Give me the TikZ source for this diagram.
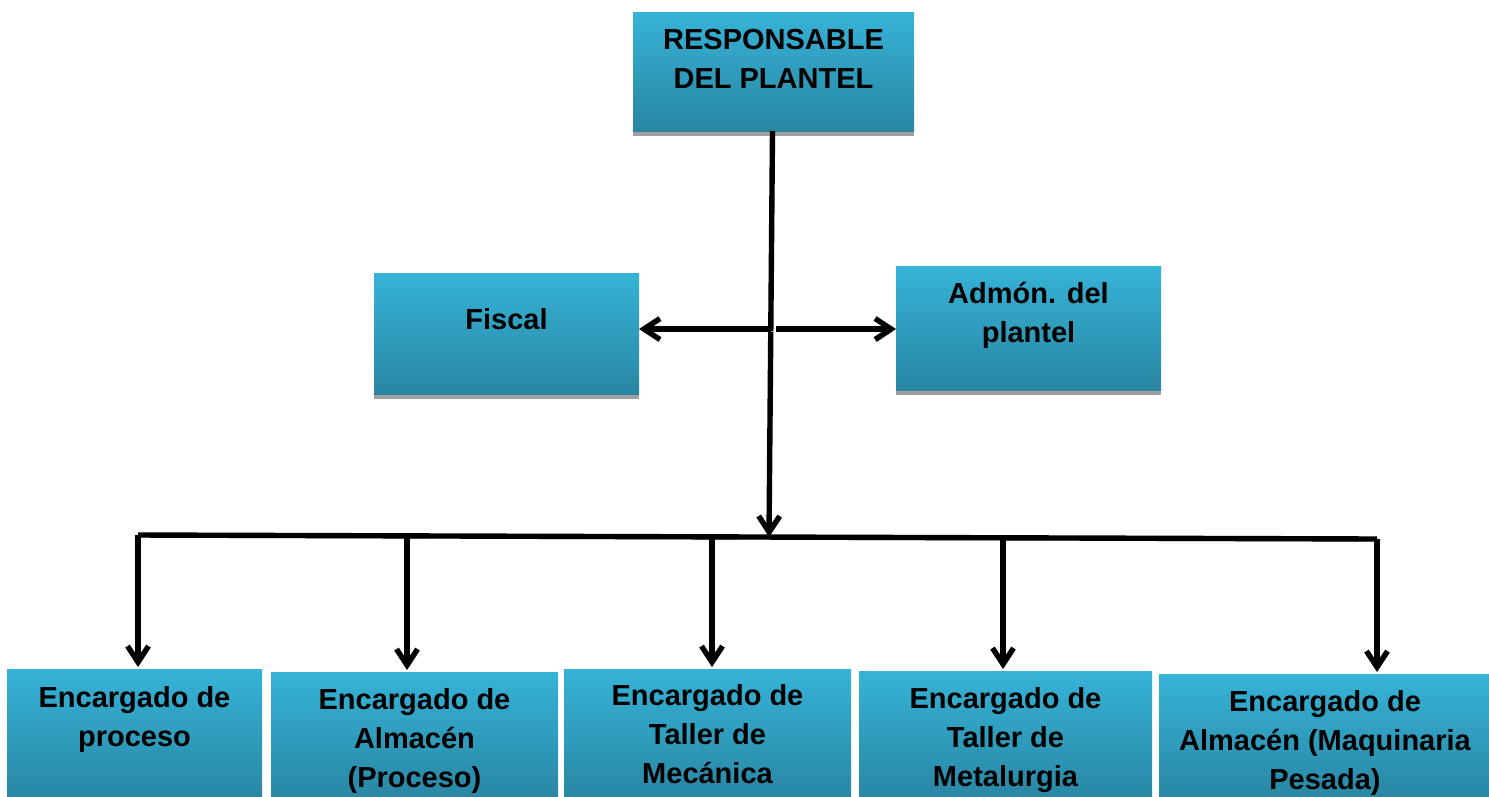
\documentclass[tikz,border=0pt]{standalone}
\usepackage{fontspec}
\setmainfont{Liberation Sans}
\usetikzlibrary{arrows.meta}
\definecolor{cTop}{RGB}{54,179,215}
\definecolor{cBot}{RGB}{41,134,163}
\definecolor{cShadow}{RGB}{160,160,160}
\newcommand\bxt[4]{\parbox[c][#2][t]{#1}{\fontsize{29pt}{39pt}\selectfont\bfseries\centering\rule{0pt}{#3}#4}}
\tikzset{
  box/.style={anchor=north west, inner sep=0pt, outer sep=0pt, top color=cTop, bottom color=cBot, draw=none},
  shadowbar/.style={fill=cShadow},
  conn/.style={line width=5.4pt, black, preaction={draw=cShadow, transform canvas={xshift=1.5pt,yshift=-2.5pt}}},
  arr/.style={conn, -{Straight Barb[length=16pt,width=21pt]}}
}
\begin{document}
\begin{tikzpicture}[x=1pt,y=-1pt]
\useasboundingbox (0,0) rectangle (1489,796);
% shadows of upper boxes
\fill[shadowbar] (633,125) rectangle (914,136);
\fill[shadowbar] (374,385) rectangle (639,399);
\fill[shadowbar] (896,380) rectangle (1161,395);
% upper boxes
\node[box] (top) at (633,12) {\bxt{281pt}{119pt}{37pt}{RESPONSABLE\\DEL PLANTEL}};
\node[box] (fiscal) at (374,273) {\bxt{265pt}{121pt}{56pt}{Fiscal}};
\node[box] (admon) at (896,266) {\bxt{265pt}{124pt}{37pt}{Admón. del\\plantel}};
% lower boxes
\node[box] (e1) at (7,669) {\bxt{255pt}{131pt}{38pt}{Encargado de\\proceso}};
\node[box] (e2) at (271,672) {\bxt{287pt}{128pt}{37pt}{Encargado de\\Almacén\\(Proceso)}};
\node[box] (e3) at (564,669) {\bxt{287pt}{131pt}{36pt}{Encargado de\\Taller de\\Mecánica}};
\node[box] (e4) at (859,671) {\bxt{293pt}{129pt}{37pt}{Encargado de\\Taller de\\Metalurgia}};
\node[box] (e5) at (1159,674) {\bxt{332pt}{126pt}{37pt}{Encargado de\\Almacén (Maquinaria\\Pesada)}};
% connectors
\coordinate (hub) at (769,537);
\coordinate (mid) at (771,329);
\coordinate (midr) at (776,329);
\coordinate (b1) at (138,535);
\coordinate (b2) at (407,536);
\coordinate (b3) at (712,537);
\coordinate (b4) at (1003,538);
\coordinate (b5) at (1377,539);
\draw[conn] (b1) -- (b5);
\draw[arr] ([xshift=-1pt]top.south) -- (hub);
\draw[arr] (mid) -- (mid -| fiscal.east);
\draw[arr] (midr) -- (midr -| admon.west);
\draw[arr] (b1) -- ([yshift=2pt]b1 |- e1.north);
\draw[arr] (b2) -- ([yshift=2pt]b2 |- e2.north);
\draw[arr] (b3) -- ([yshift=2pt]b3 |- e3.north);
\draw[arr] (b4) -- ([yshift=2pt]b4 |- e4.north);
\draw[arr] (b5) -- ([yshift=2pt]b5 |- e5.north);
\end{tikzpicture}
\end{document}
